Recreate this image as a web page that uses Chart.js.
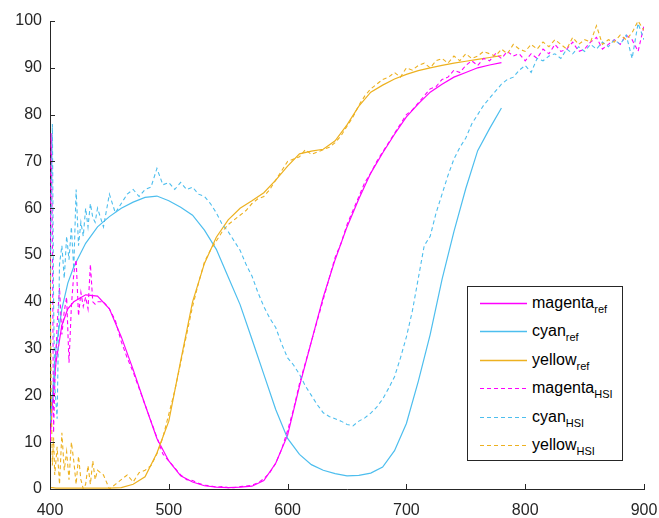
<!DOCTYPE html>
<html>
<head>
<meta charset="utf-8">
<script src="https://cdn.jsdelivr.net/npm/chart.js@4/dist/chart.umd.min.js"></script>
<style>
  html, body { margin: 0; padding: 0; background: #ffffff; overflow: hidden; }
  #wrap { position: relative; width: 659px; height: 518px; }
  #c { position: absolute; left: 0; top: 0; }
  #legend {
    position: absolute; left: 467px; top: 286px; width: 154px; height: 173px;
    border: 1px solid #262626; background: #ffffff;
    font-family: "Liberation Sans", Arial, sans-serif; color: #000;
  }
  .row { position: absolute; left: 0; height: 20px; width: 154px; }
  .row svg { position: absolute; left: 12px; top: 9px; }
  .row .lab { position: absolute; left: 64px; top: 0px; font-size: 16px; line-height: 20px; white-space: nowrap; }
  .row .lab sub { font-size: 11px; vertical-align: -5px; line-height: 0; }
</style>
</head>
<body>
<div id="wrap">
  <canvas id="c" width="659" height="518"></canvas>
  <div id="legend"></div>
</div>
<script>
// ---------- data ----------
const refX = [400,402,405,410,415,420,430,440,450,460,470,480,490,500,510,520,530,540,550,560,570,580,590,600,610,620,630,640,650,660,670,680,690,700,710,720,730,740,750,760,770,780];

const magentaRef = [10,18,27,35,38.5,40,41.5,41.2,38.5,32.5,25.5,18,10.8,6,2.8,1.5,0.7,0.4,0.3,0.4,0.6,1.8,5.5,11.5,22,31.5,41,49,56,62,67.5,71.8,75.8,79.5,82.3,84.8,86.5,88,89,90,90.6,91.1];
const cyanRef    = [14,20,30,38.5,44,47.5,52.5,56,58.2,60,61.3,62.3,62.6,61.6,60.2,58.5,55.3,51.2,45.3,39.4,32,24.5,17,10.8,7.4,5.2,4,3.3,2.8,2.9,3.4,4.7,8.2,14,23,33,44.8,55,64.2,72.3,77,81.4];
const yellowRef  = [0.3,0.3,0.2,0.2,0.2,0.2,0.2,0.2,0.2,0.3,1,2.6,7.7,14.5,27.4,40,48.2,53.8,57.5,60,61.6,63.3,66,69,71.6,72.2,72.6,74.4,77.8,81.8,84.8,86.3,87.6,88.6,89.4,90,90.5,91,91.4,91.8,92.2,92.6];

const hsiX = [400,401,402,403,404,406,408,410,412,414,416,418,420,422,424,426,428,430,432,434,436,438,440,
  445,450,455,460,465,470,475,480,485,490,
  495,500,505,510,515,520,525,530,535,540,
  545,550,555,560,565,570,575,580,585,590,
  595,600,605,610,615,620,625,630,635,640,
  645,650,655,660,665,670,675,680,685,690,
  695,700,705,710,715,720,725,730,735,740,
  745,750,755,760,765,770,775,780,785,790,
  795,800,805,810,815,820,825,830,835,840,
  845,850,855,860,865,870,875,880,885,890,
  895,900];

const magentaHSI = [40,76,55,12,22,35,43,33,38,41,27,39,46,49,37,42,39,41,38.5,48,40,39.5,40,
  40,38.5,36,31.5,28,25,21.5,18,14.5,11,
  7.5,6,4.5,3,2,1.8,1.2,0.8,0.7,0.4,
  0.5,0.3,0.3,0.5,0.6,0.8,1.3,2.2,3.5,5.5,
  8.5,12.5,17,22.5,27,31.5,36,40.5,45,49.5,
  52.5,56.5,59.5,62.5,65.5,67.5,70,72,74,76,
  78,80,81,82.5,84,85.5,86,87.5,88,89.5,
  89,90.5,91.5,90.5,92,91.5,93,92,93.5,92.5,
  93,91.5,93,92,94,93,95,93.5,94,95.5,
  93.5,94,95.5,96.5,94,95,96,95,97,96,
  93.5,99];

const cyanHSI = [30,60,78,40,22,15,48,52,45,54,49,56,47,64,52,57,54,60,56,61,58,57,60,
  56,63,59,61,63,64,62.5,64,64.5,68.5,
  65,65.5,64,65.5,64,64.5,63,62.5,61,59,
  56.5,55,53,51,48,45.5,42,39,36.5,34.5,
  31,28,26.5,24.5,22,20,18,16.3,15.5,15,
  14.5,13.8,13.5,14.5,15.2,16.2,17.5,19.2,21.5,24,
  28,32.5,38,45,52,54,59,63,67,70.5,
  73,75,78,80,82,83.5,85,86.5,87.5,88,
  89.5,90.5,89,92,91.5,92.5,93,92,94,93,
  94.5,93.5,95,94,95.5,94.5,96,95,97,92,
  99.5,96];

const yellowHSI = [50,20,5,11,3,9,1,12,4,8,2,10,6,1,7,2,0,1,5,1,6,2,4,
  3,0,1,2,3,1.5,3.5,4,5,7.5,
  11,16,21,27,33,39,44,48.5,51,53,
  55,56.5,57.5,58.5,59.5,61,62,62.5,64,66,
  68,70,70.5,71,72.5,71.5,72,72.5,73,74,
  75.5,77.5,79.5,82,84,85.5,86.5,87.5,88,89,
  88,90,89.5,90.5,91,90,91.5,92,91,92.5,
  91.5,93,92,92.5,93.5,93,92.5,94,93,95,
  94,93.5,95,94,95.5,94.5,96,95,94,96.5,
  95,96,95.5,99,95,96,95.5,97,96,97.5,
  100,98];

const seriesNames = ['magenta','cyan','yellow','magenta','cyan','yellow'];
const seriesSubs  = ['ref','ref','ref','HSI','HSI','HSI'];
const xTicks = [400,500,600,700,800,900];
const yTicks = [0,10,20,30,40,50,60,70,80,90,100];

// ---------- styles ----------
const COLORS = { magenta: '#FF00FF', cyan: '#4DBEEE', yellow: '#EDB120' };
const AXIS = '#262626';
const FONT = '"Liberation Sans", Arial, sans-serif';

function pts(xs, ys) { return xs.map((x, i) => ({ x: x, y: ys[i] })); }

const seriesData = [
  pts(refX, magentaRef), pts(refX, cyanRef), pts(refX, yellowRef),
  pts(hsiX, magentaHSI), pts(hsiX, cyanHSI), pts(hsiX, yellowHSI)
];

const datasets = seriesData.map((d, i) => {
  const dashed = seriesSubs[i] === 'HSI';
  return {
    label: seriesNames[i] + '_' + seriesSubs[i],
    data: d,
    showLine: true,
    borderColor: COLORS[seriesNames[i]],
    backgroundColor: COLORS[seriesNames[i]],
    borderWidth: dashed ? 1.1 : 1.2,
    borderDash: dashed ? [4, 3] : [],
    pointRadius: 0,
    tension: 0,
    fill: false,
    order: -i
  };
});

const innerTicks = {
  id: 'innerTicks',
  afterDatasetsDraw(chart) {
    const { ctx, chartArea: a, scales: { x, y } } = chart;
    ctx.save();
    ctx.strokeStyle = AXIS;
    ctx.lineWidth = 1;
    ctx.beginPath();
    x.ticks.forEach(t => {
      const px = Math.round(x.getPixelForValue(t.value)) + 0.5;
      ctx.moveTo(px, a.bottom); ctx.lineTo(px, a.bottom - 5);
    });
    y.ticks.forEach(t => {
      const py = Math.round(y.getPixelForValue(t.value)) + 0.5;
      ctx.moveTo(a.left, py); ctx.lineTo(a.left + 5, py);
    });
    ctx.stroke();
    ctx.restore();
  }
};

const chart = new Chart(document.getElementById('c'), {
  type: 'scatter',
  data: { datasets: datasets },
  options: {
    responsive: false,
    animation: false,
    devicePixelRatio: 1,
    layout: { padding: { top: 21, right: 15, left: 0, bottom: 0 } },
    plugins: { legend: { display: false }, tooltip: { enabled: false } },
    scales: {
      x: {
        type: 'linear', min: 400, max: 900,
        afterBuildTicks: s => { s.ticks = xTicks.map(v => ({ value: v })); },
        afterFit: s => { s.height = 29; s.paddingLeft = 0; s.paddingRight = 0; },
        grid: { display: false, drawTicks: false },
        border: { display: true, color: AXIS, width: 1 },
        ticks: { color: AXIS, font: { family: FONT, size: 16 }, padding: 12, maxRotation: 0 }
      },
      y: {
        type: 'linear', min: 0, max: 100,
        afterBuildTicks: s => { s.ticks = yTicks.map(v => ({ value: v })); },
        afterFit: s => { s.width = 50; s.paddingTop = 0; s.paddingBottom = 0; },
        grid: { display: false, drawTicks: false },
        border: { display: true, color: AXIS, width: 1 },
        ticks: { color: AXIS, font: { family: FONT, size: 16 }, padding: 8 }
      }
    }
  },
  plugins: [innerTicks]
});

// ---------- legend (HTML, real text with subscripts) ----------
const legend = document.getElementById('legend');
chart.data.datasets.forEach((ds, i) => {
  const row = document.createElement('div');
  row.className = 'row';
  row.style.top = (6 + i * 28.4) + 'px';
  const dash = ds.borderDash.length ? 'stroke-dasharray="' + ds.borderDash.join(',') + '"' : '';
  row.innerHTML =
    '<svg width="47" height="3"><line x1="0" y1="1.5" x2="47" y2="1.5" stroke="' + ds.borderColor +
    '" stroke-width="' + (ds.borderDash.length ? 1.1 : 1.3) + '" ' + dash + '/></svg>' +
    '<span class="lab">' + seriesNames[i] + '<sub>' + seriesSubs[i] + '</sub></span>';
  legend.appendChild(row);
});
</script>
</body>
</html>
